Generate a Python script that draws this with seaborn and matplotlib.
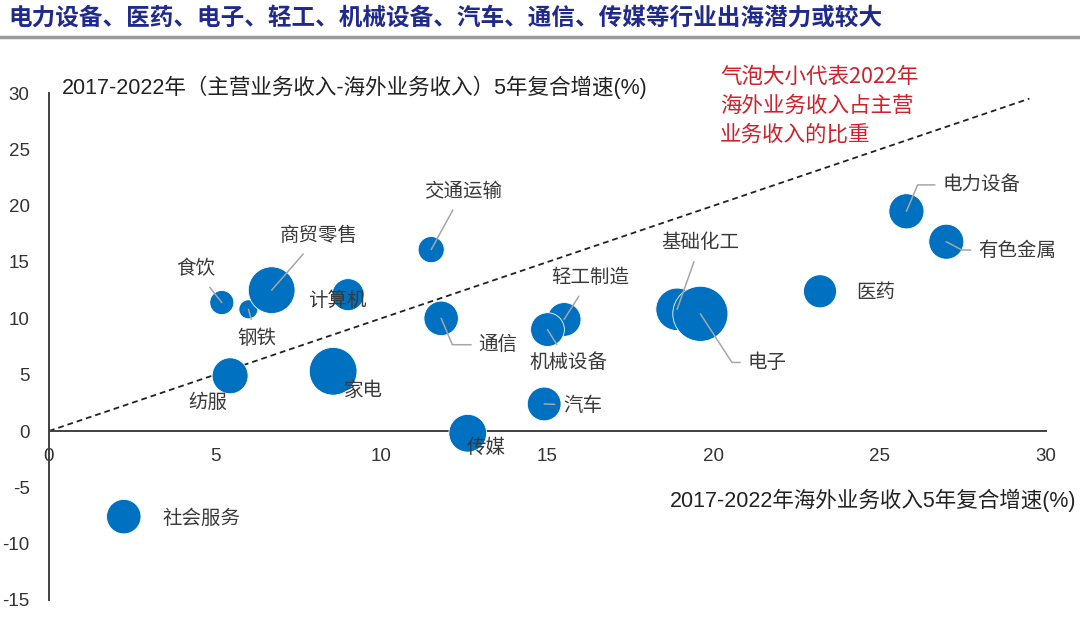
import numpy as np
import pandas as pd
import matplotlib
matplotlib.use("Agg")
import matplotlib.pyplot as plt
from matplotlib.lines import Line2D
import seaborn as sns

# ---------------- data ----------------
industries = ["食饮", "钢铁", "商贸零售", "计算机", "纺服", "家电", "交通运输", "通信",
              "轻工制造", "机械设备", "汽车", "传媒", "基础化工", "电子", "医药",
              "电力设备", "有色金属", "社会服务"]
overseas_cagr = [5.2, 6.0, 6.7, 9.0, 5.45, 8.55, 11.5, 11.8, 15.5, 15.0, 14.9, 12.6,
                 18.9, 19.6, 23.2, 25.8, 27.0, 2.25]
gap_cagr = [11.4, 10.8, 12.5, 12.1, 4.9, 5.3, 16.1, 10.0, 9.9, 9.0, 2.4, -0.2,
            10.8, 10.4, 12.4, 19.5, 16.8, -7.6]
overseas_share = [6.1, 3.8, 23.0, 10.8, 13.6, 24.0, 7.2, 12.5, 12.0, 12.0, 12.0, 15.0,
                  19.0, 32.0, 11.5, 13.0, 12.9, 12.5]
x_ticks = [0, 5, 10, 15, 20, 25, 30]
y_ticks = [-15, -10, -5, 0, 5, 10, 15, 20, 25, 30]
diag_line = [0, 29.5]

title = "电力设备、医药、电子、轻工、机械设备、汽车、通信、传媒等行业出海潜力或较大"
y_title = "2017-2022年（主营业务收入-海外业务收入）5年复合增速(%)"
x_title = "2017-2022年海外业务收入5年复合增速(%)"
note_lines = ["气泡大小代表2022年", "海外业务收入占主营", "业务收入的比重"]

# label placement (offset points, leader style, angle of leader near bubble)
label_style = {
    "食饮": ((-19, 24), "line", None),
    "钢铁": ((6, -21), "line", None),
    "商贸零售": ((34, 39), "line", None),
    "计算机": ((-8, -4), None, None),
    "纺服": ((-16, -19), None, None),
    "家电": ((22, -14), None, None),
    "交通运输": ((23, 42), "line", None),
    "通信": ((41, -19), "angle", 113),
    "轻工制造": ((19, 30), "line", None),
    "机械设备": ((15, -24), "line", None),
    "汽车": ((28, -1), "line", None),
    "传媒": ((13, -10), None, None),
    "基础化工": ((17, 48), "line", None),
    "电子": ((48, -35), "angle", 123),
    "医药": ((40, -1), None, None),
    "电力设备": ((54, 19), "angle", 67),
    "有色金属": ((51, -6), "angle", 152),
    "社会服务": ((56, -1), None, None),
}

df = pd.DataFrame({"industry": industries, "x": overseas_cagr,
                   "y": gap_cagr, "share": overseas_share})

# ---------------- style ----------------
sns.set_theme(style="white")
plt.rcParams['font.family'] = ['Liberation Sans', 'Noto Sans CJK SC']
plt.rcParams['axes.unicode_minus'] = False
cjk = ['Noto Sans CJK SC', 'Liberation Sans']
axis_col = "#404040"

fig = plt.figure(figsize=(10.8, 6.18), dpi=100)
ax = fig.add_axes([49 / 1080, 18 / 618, (1046 - 49) / 1080, (600 - 93) / 618])

sns.scatterplot(data=df, x="x", y="y", size="share", sizes=(0, 1625),
                size_norm=(0, 33), color="#0070C0", edgecolor="white", linewidth=0.6,
                alpha=1, legend=False, ax=ax, zorder=3, clip_on=False)

ax.plot(diag_line, diag_line, color="#222222", lw=1.3, dashes=(3.2, 2.2), zorder=2)

ax.set_xlim(0, 30)
ax.set_ylim(-15, 30)
ax.set_xticks(x_ticks)
ax.set_yticks(y_ticks)
ax.set_xlabel("")
ax.set_ylabel("")
for s in ["top", "right"]:
    ax.spines[s].set_visible(False)
ax.spines["bottom"].set_position(("data", 0))
for s in ["left", "bottom"]:
    ax.spines[s].set_color(axis_col)
    ax.spines[s].set_linewidth(1.4)
    ax.spines[s].set_zorder(2)
ax.tick_params(axis="x", direction="out", length=5, width=1.3, color=axis_col,
               labelsize=13.5, labelcolor="#333333", pad=7)
ax.tick_params(axis="y", direction="out", length=5, width=1.3, color=axis_col,
               labelsize=13.5, labelcolor="#333333", pad=9)
ax.set_facecolor("white")

# bubble labels
for name, xv, yv in zip(industries, overseas_cagr, gap_cagr):
    (dx, dy), kind, ang = label_style[name]
    kw = dict(xy=(xv, yv), xytext=(dx, dy), textcoords="offset points",
              ha="center", va="center", fontsize=14, color="#3a3a3a",
              family=cjk, zorder=5)
    if kind == "line":
        kw["arrowprops"] = dict(arrowstyle="-", color="#a6a6a6", lw=1.1,
                                shrinkA=4, shrinkB=0)
    elif kind == "angle":
        kw["arrowprops"] = dict(arrowstyle="-", color="#a6a6a6", lw=1.1,
                                shrinkA=3, shrinkB=0, relpos=(0, 0.5),
                                connectionstyle=f"angle,angleA=0,angleB={ang},rad=0")
    ax.annotate(name, **kw)

# texts
fig.text(8 / 1080, 1 - 18 / 618, title, ha="left", va="center", fontsize=17,
         fontweight="bold", color="#1f2a8c", family=cjk)
fig.add_artist(Line2D([0, 1], [1 - 37 / 618] * 2, color="#9a9a9a", lw=2.5))
fig.text(62 / 1080, 1 - 87 / 618, y_title, ha="left", va="center", fontsize=15.5,
         color="#222222")
fig.text(1076 / 1080, 1 - 500 / 618, x_title, ha="right", va="center", fontsize=15.5,
         color="#222222")
for i, line in enumerate(note_lines):
    fig.text(720 / 1080, 1 - (77 + 29 * i) / 618, line, ha="left", va="center",
             fontsize=15.5, color="#d0202a", family=cjk)

fig.savefig("out.png", dpi=100, facecolor="white")
